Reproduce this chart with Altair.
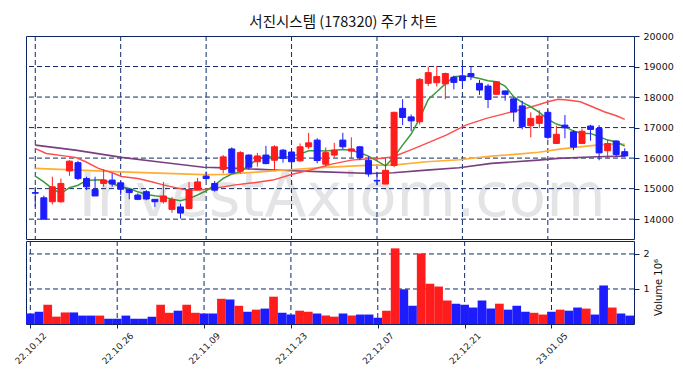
import json
import altair as alt
import pandas as pd

TITLE = "서진시스템 (178320) 주가 차트"
WATERMARK = "InvestAxiom.com"

tick_pos = [0, 10, 20, 30, 40, 50, 60]
tick_labels = ["22.10.12", "22.10.26", "22.11.09", "22.11.23", "22.12.07", "22.12.21", "23.01.05"]
price_ticks = [14000, 15000, 16000, 17000, 18000, 19000, 20000]
vol_ticks = [1, 2]

opens = [14870, 14700, 14570, 14570, 15580, 15850, 15330, 14970, 15170, 15280,
         15190, 14980, 14790, 14900, 14650, 14570, 14320, 14400, 14350, 14970,
         15410, 15170, 15630, 16300, 15570, 16100, 15880, 16100, 15930, 16260,
         16200, 15910, 16370, 16590, 15800, 16100, 16590, 16230, 16370, 15930,
         15270, 15150, 15760, 17630, 17350, 17190, 18450, 18470, 18430, 18650,
         18690, 18770, 18450, 18360, 18090, 18200, 17940, 17710, 17060, 17140,
         17500, 16480, 17080, 16860, 16480, 17050, 16970, 16240, 16560, 16210]
highs = [15050, 14770, 15390, 15330, 15930, 15910, 15390, 15390, 15630, 15500,
         15250, 15000, 14850, 14950, 14660, 15220, 14730, 14510, 15220, 15350,
         15560, 15250, 16100, 16350, 16230, 16120, 16170, 16400, 16420, 16300,
         16250, 16480, 16830, 16650, 16350, 16500, 16830, 16680, 16400, 16050,
         15550, 16000, 17520, 17930, 17430, 18620, 19000, 19020, 18800, 18700,
         19050, 18990, 18560, 18430, 18510, 18220, 17990, 17880, 17500, 17570,
         17600, 17060, 17410, 16920, 16970, 17090, 17080, 16610, 16580, 16320]
lows = [14400, 13990, 14480, 14540, 15420, 15280, 14950, 14760, 15060, 15060,
        14790, 14650, 14620, 14620, 14400, 14510, 14210, 14020, 14320, 14950,
        15280, 14900, 15500, 15500, 15500, 15630, 15720, 15800, 15600, 15850,
        15660, 15880, 16300, 15830, 15720, 16020, 16300, 15990, 15930, 15390,
        15110, 15150, 15700, 17080, 16880, 17100, 18360, 18340, 17930, 18250,
        18390, 18560, 18070, 17640, 18080, 17880, 17190, 16940, 16680, 16980,
        16620, 16480, 16650, 16260, 16460, 16570, 15930, 15990, 16050, 16030]
closes = [14850, 14000, 15060, 15170, 15900, 15330, 15060, 14760, 15280, 15150,
          14980, 14870, 14650, 14660, 14570, 14760, 14650, 14200, 14970, 15220,
          15330, 14950, 16040, 15520, 16180, 15700, 16070, 15820, 16370, 15990,
          15880, 16370, 16500, 15920, 16180, 16260, 16370, 16300, 16020, 15480,
          15250, 15600, 17500, 17330, 17220, 18580, 18800, 18670, 18770, 18480,
          18540, 18680, 18230, 17920, 18500, 18090, 17510, 17030, 17300, 17380,
          16680, 16780, 16990, 16360, 16880, 16940, 16170, 16480, 16120, 16070]
volumes = [0.30, 0.35, 0.55, 0.21, 0.33, 0.33, 0.24, 0.24, 0.24, 0.15,
           0.15, 0.24, 0.15, 0.15, 0.21, 0.55, 0.32, 0.38, 0.55, 0.32,
           0.30, 0.30, 0.72, 0.70, 0.52, 0.35, 0.41, 0.44, 0.78, 0.32,
           0.27, 0.38, 0.35, 0.30, 0.24, 0.21, 0.30, 0.24, 0.27, 0.27,
           0.18, 0.38, 2.16, 0.99, 0.52, 2.01, 1.15, 1.07, 0.67, 0.58,
           0.55, 0.47, 0.67, 0.44, 0.58, 0.41, 0.52, 0.35, 0.32, 0.27,
           0.35, 0.41, 0.38, 0.47, 0.44, 0.27, 1.10, 0.47, 0.30, 0.24]

ma5 = [15410, 15220, 15000, 14840, 15030, 15110, 15270, 15280, 15290, 15170,
       15060, 15005, 14895, 14810, 14765, 14730, 14655, 14600, 14680, 14790,
       14930, 15115, 15335, 15475, 15550, 15770, 15957, 16043, 16040, 16020,
       16065, 16130, 16240, 16240, 16230, 16260, 16285, 16260, 16175, 16065,
       15910, 15740, 16043, 16426, 16787, 17300, 17925, 18175, 18430, 18666,
       18690, 18666, 18610, 18535, 18500, 18360, 18010, 17825, 17682, 17500,
       17280, 17115, 17030, 16885, 16810, 16810, 16700, 16590, 16535, 16393]

ma20_idx = [0, 1.3, 3.6, 4.7, 5.9, 7.4, 9.0, 10.1, 12.0, 13.6, 15.1, 17.4, 18.9,
            20.9, 23.2, 25.5, 27.8, 30.1, 32.4, 34.7, 37.0, 39.3, 40.4, 41.9,
            43.9, 45.8, 48.1, 50.4, 52.8, 55.1, 57.4, 58.9, 60.0, 61.2, 62.3,
            63.8, 65.0, 66.6, 68.1, 69.0]
ma20_val = [16310, 16154, 16065, 16023, 15880, 15662, 15518, 15400, 15334, 15223,
            15115, 14974, 14951, 15006, 15115, 15190, 15279, 15470, 15630, 15803,
            15934, 15990, 15990, 16043, 16262, 16482, 16754, 17082, 17302, 17466,
            17630, 17750, 17846, 17925, 17902, 17846, 17705, 17518, 17377, 17269]

ma60_idx = [0, 10.1, 19.7, 22.3, 26.3, 30.1, 33.9, 39.3, 41.9, 45.8, 49.6, 53.4,
            56.5, 58.9, 61.2, 63.4, 65.7, 68.1, 69.0]
ma60_val = [15662, 15550, 15460, 15466, 15550, 15625, 15695, 15770, 15770, 15880,
            15945, 16066, 16131, 16190, 16285, 16360, 16426, 16470, 16450]

ma120_idx = [0, 4.7, 10.1, 14.3, 19.7, 22.3, 26.3, 30.1, 33.9, 39.3, 41.9, 45.8,
             49.6, 53.4, 58.9, 61.2, 65.7, 69.0]
ma120_val = [16426, 16262, 16023, 15880, 15700, 15680, 15630, 15584, 15550, 15498,
             15518, 15607, 15682, 15826, 15934, 15990, 16043, 16066]

# ---- styles ----
RED = "#ff1c1c"
BLUE = "#1c1cff"
NAVY = "#0c2461"
GRID = "#0f2a66"
DASH = [5, 3]
W = 608
H_PRICE = 203
H_VOL = 83

df = pd.DataFrame({
    "idx": list(range(len(opens))),
    "open": opens, "high": highs, "low": lows, "close": closes, "vol": volumes,
})
df["x0"] = df["idx"] - 0.5
df["x1"] = df["idx"] + 0.5

xscale = alt.Scale(domain=[-0.5, len(opens) - 0.5], nice=False, zero=False)
pscale = alt.Scale(domain=[13350, 20000], nice=False, zero=False)
vscale = alt.Scale(domain=[0, 2.37], nice=False, zero=False)
updown = alt.condition("datum.close >= datum.open", alt.value(RED), alt.value(BLUE))

label_expr = json.dumps(tick_labels) + "[round(datum.value / 10)]"

# ---- price panel ----
watermark = alt.Chart(pd.DataFrame({"t": [WATERMARK]})).mark_text(
    font="DejaVu Sans", fontSize=61, color="#e4e4e7", align="center", baseline="alphabetic"
).encode(text="t:N", x=alt.value(316), y=alt.value(180))

vgrid_p = alt.Chart(pd.DataFrame({"idx": tick_pos})).mark_rule(
    color=GRID, strokeDash=DASH, strokeWidth=1
).encode(x=alt.X("idx:Q", scale=xscale, axis=None))

hgrid_p = alt.Chart(pd.DataFrame({"p": price_ticks[:-1]})).mark_rule(
    color=GRID, strokeDash=DASH, strokeWidth=1
).encode(y=alt.Y("p:Q", scale=pscale, axis=alt.Axis(
    orient="right", values=price_ticks, format="d", grid=False, domain=False,
    tickSize=5, tickColor=NAVY, labelPadding=4, labelFontSize=9.5, labelColor="#111",
    labelFont="DejaVu Sans", title=None)))

def ma_line(xs, ys, color, width):
    return alt.Chart(pd.DataFrame({"idx": xs, "v": ys})).mark_line(
        color=color, strokeWidth=width
    ).encode(x=alt.X("idx:Q", scale=xscale, axis=None),
             y=alt.Y("v:Q", scale=pscale, axis=None))

l120 = ma_line(ma120_idx, ma120_val, "#7a3f80", 1.6)
l60 = ma_line(ma60_idx, ma60_val, "#ffad33", 1.6)
l20 = ma_line(ma20_idx, ma20_val, "#ff4d4d", 1.5)
l5 = ma_line(list(range(len(ma5))), ma5, "#3c9a3c", 1.5)

wicks = alt.Chart(df).mark_rule(strokeWidth=1).encode(
    x=alt.X("idx:Q", scale=xscale, axis=None),
    y=alt.Y("low:Q", scale=pscale, axis=None), y2="high:Q", color=updown)

bodies = alt.Chart(df).mark_bar(size=6, strokeWidth=1).encode(
    x=alt.X("idx:Q", scale=xscale, axis=None),
    y=alt.Y("open:Q", scale=pscale, axis=None), y2="close:Q",
    color=updown, stroke=updown)

price = alt.layer(watermark, vgrid_p, hgrid_p, l120, l60, l20, l5, wicks, bodies).resolve_axis(
    x="independent", y="independent").properties(width=W, height=H_PRICE)

# ---- volume panel ----
vgrid_v = alt.Chart(pd.DataFrame({"idx": tick_pos})).mark_rule(
    color=GRID, strokeDash=DASH, strokeWidth=1
).encode(x=alt.X("idx:Q", scale=xscale, axis=alt.Axis(
    values=tick_pos, labelExpr=label_expr, labelAngle=315, labelAlign="center",
    labelBaseline="middle", labelPadding=20, labelOverlap=False, labelFontSize=9,
    labelColor="#222", labelFont="DejaVu Sans", tickSize=4, tickColor=NAVY,
    domain=False, grid=False, title=None)))

hgrid_v = alt.Chart(pd.DataFrame({"v": vol_ticks})).mark_rule(
    color=GRID, strokeDash=DASH, strokeWidth=1
).encode(y=alt.Y("v:Q", scale=vscale, axis=alt.Axis(
    orient="right", values=vol_ticks, format="d", grid=False, domain=False,
    tickSize=5, tickColor=NAVY, labelPadding=4, labelFontSize=9.5, labelColor="#111",
    labelFont="DejaVu Sans", title="Volume  10⁶", titleAngle=270, titleFontSize=10,
    titleFontWeight="normal", titleFont="DejaVu Sans", titleColor="#111",
    titlePadding=14, titleY=46)))

vbars = alt.Chart(df).mark_bar().encode(
    x=alt.X("x0:Q", scale=xscale, axis=None), x2="x1:Q",
    y=alt.Y("vol:Q", scale=vscale, axis=None), y2=alt.datum(0), color=updown)

volume = alt.layer(vgrid_v, hgrid_v, vbars).resolve_axis(
    x="independent", y="independent").properties(width=W, height=H_VOL)

chart = alt.vconcat(price, volume, spacing=0).properties(
    title=alt.TitleParams(TITLE, font="Noto Sans CJK KR", fontSize=14.5, fontWeight="normal",
                          anchor="middle", color="#111", offset=0),
    padding={"left": 4, "top": 7, "right": 0, "bottom": 2},
).configure_view(stroke=NAVY, strokeWidth=1)

chart.save("out.html", embed_options={"renderer": "svg", "actions": False})
